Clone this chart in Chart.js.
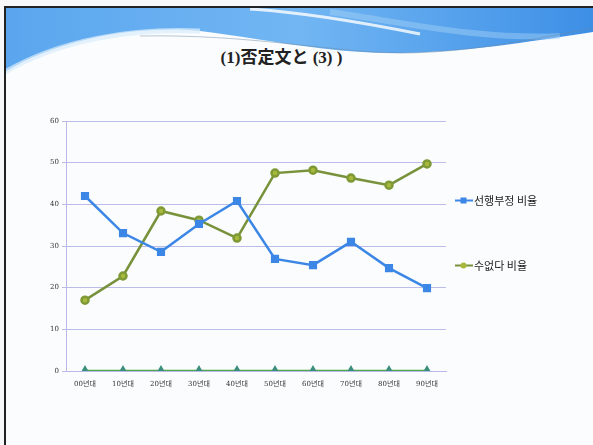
<!DOCTYPE html>
<html>
<head>
<meta charset="utf-8">
<script src="https://cdn.jsdelivr.net/npm/chart.js@4"></script>
<style>
  html, body { margin: 0; padding: 0; width: 593px; height: 445px; overflow: hidden; background: #f7f8fa; }
  #wrap { position: relative; width: 593px; height: 445px; }
  #bg { position: absolute; left: 0; top: 0; }
  #title { position: absolute; left: 0; width: 563px; top: 43px; text-align: center;
    font-family: "Liberation Serif", "Noto Sans CJK JP", serif; font-size: 17px; font-weight: bold; color: #222; }
  #chartBox { position: absolute; left: 0; top: 0; width: 593px; height: 445px; }
  #legend { position: absolute; left: 455px; top: 191px; font-family: "Noto Sans CJK KR", sans-serif; font-size: 11px; color: #222; }
  .li { display: flex; align-items: center; height: 18px; margin-bottom: 47px; }
  .li svg { margin-right: 1px; }
</style>
</head>
<body>
<div id="wrap">
  <svg id="bg" width="593" height="445" viewBox="0 0 593 445">
    <defs>
      <linearGradient id="g1" x1="0" y1="0" x2="1" y2="0">
        <stop offset="0" stop-color="#5aa6ee"/>
        <stop offset="0.5" stop-color="#72b6f3"/>
        <stop offset="1" stop-color="#3d8fe6"/>
      </linearGradient>
    </defs>
    <rect x="5" y="7" width="588" height="438" fill="#fbfcfd"/>
    <path d="M5,8 L593,8 L593,32 C540,40 470,52 400,53 C330,54 260,38 200,31 C140,25 60,38 5,72 Z" fill="url(#g1)"/>
    <path d="M5,72 C60,40 130,28 200,31" stroke="#d8ecfb" stroke-width="5" fill="none" opacity="0.7"/>
    <path d="M250,9 C300,12 360,22 420,34" stroke="#ffffff" stroke-width="3" fill="none" opacity="0.8"/>
    <path d="M330,12 C400,22 480,40 560,36" stroke="#a6d3f7" stroke-width="6" fill="none" opacity="0.45"/>
    <path d="M140,36 C250,34 330,52 400,53 C460,53 520,42 593,28" stroke="#6b8aa6" stroke-width="0.8" fill="none" opacity="0.6"/>
    <line x1="4" y1="7" x2="593" y2="7" stroke="#222" stroke-width="2"/>
    <line x1="5" y1="6" x2="5" y2="445" stroke="#222" stroke-width="2"/>
  </svg>
  <div id="title">(1)否定文と (3) )</div>
  <div id="chartBox"><canvas id="c" width="593" height="445"></canvas></div>
  <div id="legend"></div>
</div>
<script>
const categories = ['00년대','10년대','20년대','30년대','40년대','50년대','60년대','70년대','80년대','90년대'];
const seriesNames = ['선행부정 비율', '수없다 비율'];
const preNegation = [42.0, 33.1, 28.6, 35.3, 40.8, 26.9, 25.4, 31.0, 24.7, 19.9];
const suEopda = [17.0, 22.8, 38.4, 36.2, 31.9, 47.5, 48.2, 46.3, 44.6, 49.7];
const zeroSeries = [0, 0, 0, 0, 0, 0, 0, 0, 0, 0];
const yTicks = [0, 10, 20, 30, 40, 50, 60];

const tickFont = { family: '"DejaVu Serif", "Noto Sans CJK KR", serif', size: 7 };

const chart = new Chart(document.getElementById('c'), {
  type: 'line',
  data: {
    labels: categories,
    datasets: [
      { label: '', data: zeroSeries, borderColor: '#4fa848', backgroundColor: '#3a8f7c', borderWidth: 2.5,
        pointStyle: 'triangle', pointRadius: 3.5, pointBorderColor: '#3a8f7c', pointBackgroundColor: '#3a8f7c', hideLegend: true },
      { label: seriesNames[0], data: preNegation, borderColor: '#3c87e6', backgroundColor: '#3c87e6', borderWidth: 2.5,
        pointStyle: 'rect', pointRadius: 4, pointBorderColor: '#3c87e6', pointBackgroundColor: '#3c87e6' },
      { label: seriesNames[1], data: suEopda, borderColor: '#77923a', backgroundColor: '#a3b43a', borderWidth: 2.5,
        pointStyle: 'circle', pointRadius: 3.5, pointBorderColor: '#7f9a34', pointBackgroundColor: '#a7b83c' }
    ]
  },
  options: {
    responsive: false,
    animation: false,
    layout: { padding: { left: 0, top: 121, right: 147, bottom: 0 } },
    plugins: { legend: { display: false }, title: { display: false }, tooltip: { enabled: false } },
    scales: {
      x: {
        offset: true,
        grid: { display: false, drawTicks: false },
        border: { color: '#b9b9e6', width: 1 },
        ticks: { font: tickFont, color: '#333', padding: 9, maxRotation: 0, autoSkip: false },
        afterFit: (s) => { s.height = 74; }
      },
      y: {
        min: 0, max: 60,
        afterBuildTicks: (s) => { s.ticks = yTicks.map(v => ({ value: v })); },
        grid: { color: '#bcbce8', lineWidth: 1, tickLength: 4 },
        border: { color: '#b9b9e6', width: 1 },
        ticks: { font: tickFont, color: '#333', padding: 3 },
        afterFit: (s) => { s.width = 66; }
      }
    }
  }
});

// HTML legend built from the chart's datasets
const legend = document.getElementById('legend');
chart.data.datasets.forEach((ds) => {
  if (ds.hideLegend) return;
  const row = document.createElement('div');
  row.className = 'li';
  const marker = ds.pointStyle === 'rect'
    ? `<rect x="5.5" y="2.5" width="6" height="6" fill="${ds.pointBackgroundColor}"/>`
    : `<circle cx="8.5" cy="5.5" r="3" fill="${ds.pointBackgroundColor}"/>`;
  row.innerHTML = `<svg width="18" height="11"><line x1="0" y1="5.5" x2="18" y2="5.5" stroke="${ds.borderColor}" stroke-width="2"/>${marker}</svg><span>${ds.label}</span>`;
  legend.appendChild(row);
});
</script>
</body>
</html>
